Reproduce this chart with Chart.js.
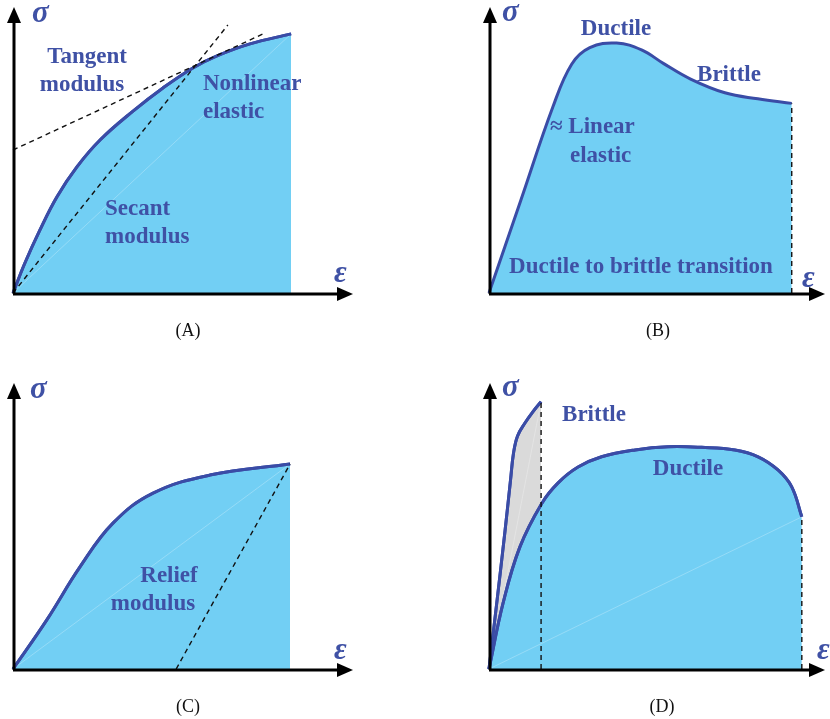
<!DOCTYPE html>
<html>
<head>
<meta charset="utf-8">
<script src="https://cdn.jsdelivr.net/npm/chart.js@4.4.1/dist/chart.umd.min.js"></script>
<style>
  body { margin: 0; background: #fff; }
  #wrap { position: relative; width: 830px; height: 719px; }
  canvas { position: absolute; }
</style>
</head>
<body>
<div id="wrap">
  <canvas id="panelA" width="415" height="360" style="left:0;top:0"></canvas>
  <canvas id="panelB" width="415" height="360" style="left:415px;top:0"></canvas>
  <canvas id="panelC" width="415" height="359" style="left:0;top:360px"></canvas>
  <canvas id="panelD" width="415" height="359" style="left:415px;top:360px"></canvas>
</div>
<script>
// strain / stress in % of axis length
const strainA = [0, 3.5, 7.9, 12.9, 18.8, 25.6, 35.3, 44.1, 52.9, 60.0, 69.7, 81.8];
const stressA = [0, 10.5, 22.0, 33.6, 44.1, 53.5, 63.6, 71.7, 78.7, 82.9, 87.1, 90.6];
const tangentStrain = [0, 74.1];
const tangentStress = [50.0, 90.9];
const secantStrain = [0, 63.2];
const secantStress = [0, 93.7];

const strainB = [0, 9.5, 19.0, 24.6, 30.0, 38.0, 45.4, 52.0, 60.0, 70.2, 80.0, 90.1];
const stressB = [0, 32.5, 65.0, 80.0, 85.8, 87.4, 85.0, 80.2, 74.8, 70.0, 67.9, 66.3];

const strainC = [0, 9.9, 19.7, 29.4, 41.2, 57.9, 81.5];
const stressC = [0, 17.1, 35.7, 51.0, 61.5, 67.8, 71.7];
const reliefStrain = [48.0, 81.5];
const reliefStress = [0, 71.7];

const brittleStrain = [0, 2.4, 4.8, 6.4, 7.3, 8.5, 10.7, 13.1, 15.5];
const brittleStress = [0, 24.0, 48.6, 66.0, 75.5, 81.5, 86.0, 90.0, 93.5];
const ductileStrain = [0, 4.2, 9.2, 15.7, 20.5, 26.5, 33.5, 43.5, 53.3, 63.3, 73.2, 80.1, 86.0, 90.1, 93.1];
const ductileStress = [0, 23.1, 42.7, 57.9, 65.0, 70.6, 74.2, 76.6, 77.7, 77.5, 76.6, 74.2, 69.6, 63.7, 53.2];

const BLUE = '#3a4ca6';
const TEXT = '#3f51a5';
const FILL = '#72cff4';
const GREY = '#dadada';
const LABEL_FONT = 'bold 23px "Liberation Serif", "Times New Roman", serif';
const SYMBOL_FONT = 'bold italic 31px "Liberation Serif", "Times New Roman", serif';
const CAPTION_FONT = '18px "Liberation Serif", "Times New Roman", serif';

function pts(xs, ys) {
  return xs.map((x, i) => ({ x: x, y: ys[i] }));
}
const last = arr => arr[arr.length - 1];

function curve(xs, ys, fillColor) {
  return {
    data: pts(xs, ys),
    borderColor: BLUE,
    borderWidth: 3,
    backgroundColor: fillColor,
    fill: fillColor ? 'origin' : false,
    tension: 0.4,
    pointRadius: 0
  };
}

function dashed(xs, ys) {
  return {
    data: pts(xs, ys),
    borderColor: '#111',
    borderWidth: 1.4,
    borderDash: [5, 4],
    fill: false,
    tension: 0,
    pointRadius: 0
  };
}

// the faint light seam running through the filled area
function seam(xs, ys) {
  return {
    data: [{ x: 0, y: 0 }, { x: last(xs), y: last(ys) }],
    borderColor: 'rgba(255,255,255,0.25)',
    borderWidth: 1,
    fill: false,
    tension: 0,
    pointRadius: 0
  };
}

const arrowAxes = {
  id: 'arrowAxes',
  afterDraw(chart, args, opts) {
    const c = chart.ctx;
    const a = chart.chartArea;
    const ox = a.left + 1, oy = a.bottom + 1;
    c.save();
    c.strokeStyle = '#000';
    c.fillStyle = '#000';
    c.lineWidth = 3;
    c.beginPath();
    c.moveTo(ox, oy);
    c.lineTo(ox, a.top + 14);
    c.moveTo(ox - 1, oy);
    c.lineTo(a.right - 14, oy);
    c.stroke();
    c.beginPath();
    c.moveTo(ox, a.top);
    c.lineTo(ox - 7, a.top + 16);
    c.lineTo(ox + 7, a.top + 16);
    c.closePath();
    c.fill();
    c.beginPath();
    c.moveTo(a.right, oy);
    c.lineTo(a.right - 16, oy - 7);
    c.lineTo(a.right - 16, oy + 7);
    c.closePath();
    c.fill();

    c.textBaseline = 'alphabetic';
    c.fillStyle = TEXT;
    c.font = SYMBOL_FONT;
    c.textAlign = 'left';
    c.fillText('σ', opts.sigma[0], opts.sigma[1]);
    c.fillText('ε', opts.eps[0], opts.eps[1]);

    c.font = LABEL_FONT;
    opts.labels.forEach(l => {
      c.textAlign = l.align || 'center';
      c.fillText(l.text, l.x, l.y);
    });

    c.fillStyle = '#111';
    c.font = CAPTION_FONT;
    c.textAlign = 'center';
    c.fillText(opts.caption[0], opts.caption[1], opts.caption[2]);
    c.restore();
  }
};

function makePanel(id, pad, datasets, deco) {
  return new Chart(document.getElementById(id), {
    type: 'line',
    data: { datasets: datasets },
    options: {
      responsive: false,
      animation: false,
      devicePixelRatio: 1,
      layout: { padding: pad },
      clip: false,
      scales: {
        x: { type: 'linear', min: 0, max: 100, display: false },
        y: { type: 'linear', min: 0, max: 100, display: false }
      },
      plugins: {
        legend: { display: false },
        tooltip: { enabled: false },
        arrowAxes: deco
      }
    },
    plugins: [arrowAxes]
  });
}

makePanel('panelA', { left: 13, top: 7, right: 62, bottom: 67 }, [
  dashed(tangentStrain, tangentStress),
  dashed(secantStrain, secantStress),
  curve(strainA, stressA, null),
  seam(strainA, stressA),
  curve(strainA, stressA, FILL)
], {
  sigma: [32, 22], eps: [334, 282], caption: ['(A)', 188, 336],
  labels: [
    { text: 'Tangent', x: 87, y: 63 },
    { text: 'modulus', x: 82, y: 91 },
    { text: 'Nonlinear', x: 203, y: 90, align: 'left' },
    { text: 'elastic', x: 203, y: 118, align: 'left' },
    { text: 'Secant', x: 105, y: 215, align: 'left' },
    { text: 'modulus', x: 105, y: 243, align: 'left' }
  ]
});

makePanel('panelB', { left: 74, top: 7, right: 5, bottom: 67 }, [
  dashed([last(strainB), last(strainB)], [0, last(stressB)]),
  curve(strainB, stressB, FILL)
], {
  sigma: [87, 21], eps: [387, 287], caption: ['(B)', 243, 336],
  labels: [
    { text: 'Ductile', x: 201, y: 35 },
    { text: 'Brittle', x: 314, y: 81 },
    { text: '≈ Linear', x: 135, y: 133, align: 'left' },
    { text: 'elastic', x: 155, y: 162, align: 'left' },
    { text: 'Ductile to brittle transition', x: 226, y: 273 }
  ]
});

makePanel('panelC', { left: 13, top: 23, right: 62, bottom: 50 }, [
  dashed(reliefStrain, reliefStress),
  curve(strainC, stressC, null),
  seam(strainC, stressC),
  curve(strainC, stressC, FILL)
], {
  sigma: [30, 38], eps: [334, 299], caption: ['(C)', 188, 352],
  labels: [
    { text: 'Relief', x: 169, y: 222 },
    { text: 'modulus', x: 153, y: 250 }
  ]
});

makePanel('panelD', { left: 74, top: 23, right: 5, bottom: 50 }, [
  dashed([last(brittleStrain), last(brittleStrain)], [0, last(brittleStress)]),
  dashed([last(ductileStrain), last(ductileStrain)], [0, last(ductileStress)]),
  curve(ductileStrain, ductileStress, null),
  seam(ductileStrain, ductileStress),
  curve(ductileStrain, ductileStress, FILL),
  curve(brittleStrain, brittleStress, null),
  seam(brittleStrain, brittleStress),
  curve(brittleStrain, brittleStress, GREY)
], {
  sigma: [87, 36], eps: [402, 299], caption: ['(D)', 247, 352],
  labels: [
    { text: 'Brittle', x: 179, y: 61 },
    { text: 'Ductile', x: 273, y: 115 }
  ]
});
</script>
</body>
</html>
